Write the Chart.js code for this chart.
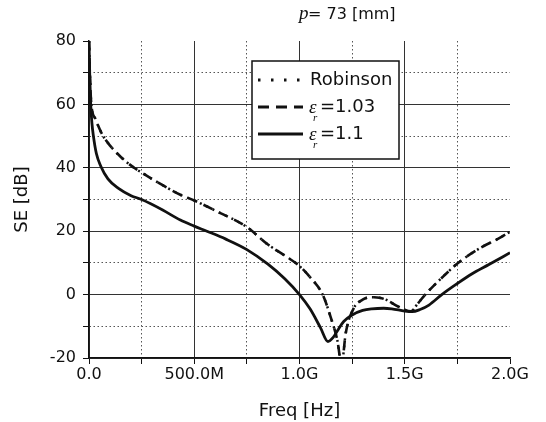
<!DOCTYPE html>
<html>
<head>
<meta charset="utf-8">
<script src="https://cdn.jsdelivr.net/npm/chart.js@4"></script>
<style>
html,body{margin:0;padding:0;background:#fff;}
#wrap{width:546px;height:422px;position:relative;}
</style>
</head>
<body>
<div id="wrap"><canvas id="c" width="546" height="422"></canvas></div>
<script>
// ---- data (frequency in GHz, SE in dB) ----
const freqEps110 = [0,0.004,0.008,0.014,0.021,0.035,0.056,0.09,0.14,0.2,0.25,0.35,0.434,0.5,0.56,0.65,0.75,0.85,0.93,1.0,1.05,1.1,1.135,1.16,1.185,1.21,1.248,1.3,1.343,1.4,1.438,1.5,1.535,1.57,1.615,1.676,1.75,1.818,1.9,2.0];
const seEps110   = [80,68,60,54,50,44.5,40.5,36.5,33.5,31.2,30,26.7,23.5,21.6,20,17.5,14.2,9.6,5,0,-4.5,-10.5,-14.8,-13.5,-10.9,-8.5,-6.5,-5,-4.5,-4.3,-4.5,-5.2,-5.4,-4.8,-3.3,0,3.5,6.5,9.5,13.2];

const freqEps103 = [0,0.005,0.011,0.03,0.063,0.1,0.15,0.214,0.25,0.35,0.434,0.5,0.6,0.75,0.85,0.93,1.0,1.05,1.11,1.15,1.18,1.2,1.22,1.256,1.3,1.343,1.38,1.41,1.47,1.53,1.56,1.6,1.695,1.75,1.853,1.949,2.0];
const seEps103   = [80,68,60,55.5,50.5,47,43.5,40,38.5,34.5,31.5,29.7,26.5,21.3,15.8,12.3,9,5.5,0,-7.5,-14.5,-22,-12,-4.5,-1.6,-0.8,-1,-1.6,-3.8,-5.3,-3,0.2,6.5,9.8,14.5,17.8,19.8];

const freqRobinson = [0,0.005,0.011,0.03,0.063,0.1,0.15,0.214,0.25,0.35,0.434,0.5,0.6,0.75,0.85,0.93,1.0,1.05,1.11,1.15,1.18,1.2,1.22,1.256,1.3,1.343,1.38,1.41,1.47,1.53,1.56,1.6,1.695,1.75,1.853,1.949,2.0];
const seRobinson   = [80,68,60,55.5,50.5,47,43.5,40,38.5,34.5,31.5,29.7,26.5,21.3,15.8,12.3,9,5.5,0,-7.5,-14.5,-22,-12,-4.5,-1.6,-0.8,-1,-1.6,-3.8,-5.3,-3,0.2,6.5,9.8,14.5,17.8,19.8];

const xTickValues = [0,0.25,0.5,0.75,1.0,1.25,1.5,1.75,2.0];
const xTickLabels = ['0.0','','500.0M','','1.0G','','1.5G','','2.0G'];
const yTickValues = [-20,-10,0,10,20,30,40,50,60,70,80];
const yTickLabels = ['-20','','0','','20','','40','','60','','80'];

const seriesNames = ['Robinson','1.03','1.1'];
const titleText = '= 73 [mm]';

function pts(xs, ys){ return xs.map((x,i)=>({x:x, y:ys[i]})); }

const FONT = '"DejaVu Sans", sans-serif';
const INK = '#111';

const overlayPlugin = {
  id:'overlay',
  afterDraw(chart){
    const ctx = chart.ctx;
    ctx.save();
    // title
    ctx.fillStyle = INK;
    ctx.textBaseline = 'alphabetic';
    ctx.textAlign = 'left';
    ctx.font = 'italic 19px "Liberation Serif", "DejaVu Serif", serif';
    ctx.fillText('p', 299, 19);
    ctx.font = '16px ' + FONT;
    ctx.fillText(titleText, 308, 19);

    // legend box
    const bx = 252, by = 61, bw = 147, bh = 98;
    ctx.fillStyle = '#fff';
    ctx.fillRect(bx, by, bw, bh);
    ctx.strokeStyle = INK;
    ctx.lineWidth = 1.5;
    ctx.strokeRect(bx, by, bw, bh);

    const rows = [
      {y:80, dash:[2.5,10.5], w:3, label:seriesNames[0], eps:false},
      {y:107, dash:[11,7], w:3, label:seriesNames[1], eps:true},
      {y:134, dash:[], w:3, label:seriesNames[2], eps:true}
    ];
    rows.forEach(r=>{
      ctx.beginPath();
      ctx.setLineDash(r.dash);
      ctx.lineWidth = r.w;
      ctx.strokeStyle = INK;
      ctx.moveTo(258, r.y);
      ctx.lineTo(303, r.y);
      ctx.stroke();
      ctx.setLineDash([]);
      ctx.fillStyle = INK;
      ctx.textBaseline = 'middle';
      if(!r.eps){
        ctx.font = '18px ' + FONT;
        ctx.fillText(r.label, 310, r.y);
      } else {
        ctx.font = 'italic 19px "Liberation Serif", "DejaVu Serif", serif';
        ctx.fillText('\u03b5', 309, r.y+1);
        ctx.font = 'italic 11px "Liberation Serif", "DejaVu Serif", serif';
        ctx.fillText('r', 313, r.y+11);
        ctx.font = '18px ' + FONT;
        ctx.fillText('=' + r.label, 320, r.y);
      }
    });
    ctx.restore();
  }
};

const isMinorX = v => Math.abs((v/0.5) - Math.round(v/0.5)) > 1e-6;
const isMinorY = v => Math.abs((v/20) - Math.round(v/20)) > 1e-6;

new Chart(document.getElementById('c'), {
  type:'line',
  data:{
    datasets:[
      {label:seriesNames[0], data:pts(freqRobinson, seRobinson), borderColor:INK, borderWidth:2.5, borderDash:[2,5], pointRadius:0, fill:false, cubicInterpolationMode:'monotone'},
      {label:seriesNames[1], data:pts(freqEps103, seEps103), borderColor:INK, borderWidth:2.6, borderDash:[10,7], pointRadius:0, fill:false, cubicInterpolationMode:'monotone'},
      {label:seriesNames[2], data:pts(freqEps110, seEps110), borderColor:INK, borderWidth:2.8, pointRadius:0, fill:false, cubicInterpolationMode:'monotone'}
    ]
  },
  options:{
    responsive:false,
    animation:false,
    devicePixelRatio:1,
    layout:{padding:{top:41,right:36,left:0,bottom:0}},
    plugins:{legend:{display:false}, title:{display:false}, tooltip:{enabled:false}},
    scales:{
      x:{
        type:'linear', min:0, max:2,
        afterBuildTicks: s => { s.ticks = xTickValues.map(v=>({value:v})); },
        afterFit: s => { s.height = 64; },
        ticks:{
          autoSkip:false, maxRotation:0, padding:1, color:INK,
          font:{family:FONT, size:16},
          callback:(v, i) => xTickLabels[xTickValues.indexOf(v)] ?? ''
        },
        grid:{
          color: c => (c.tick && (c.tick.value === 2)) ? 'rgba(0,0,0,0)' : (c.tick && isMinorX(c.tick.value) ? '#555' : '#333'),
          lineWidth:1,
          tickColor: INK, tickLength:6, tickWidth:1
        },
        border:{display:true, color:INK, width:1.5, dash: c => (c.tick && isMinorX(c.tick.value)) ? [1.5,2.5] : []},
        title:{display:true, text:'Freq [Hz]', color:INK, font:{family:FONT, size:18}, padding:{top:0,bottom:0}}
      },
      y:{
        type:'linear', min:-20, max:80,
        afterBuildTicks: s => { s.ticks = yTickValues.map(v=>({value:v})); },
        afterFit: s => { s.width = 89; },
        ticks:{
          autoSkip:false, padding:7, color:INK,
          font:{family:FONT, size:16},
          callback:(v) => yTickLabels[yTickValues.indexOf(v)] ?? ''
        },
        grid:{
          color: c => (c.tick && (c.tick.value === 80)) ? 'rgba(0,0,0,0)' : (c.tick && isMinorY(c.tick.value) ? '#555' : '#333'),
          lineWidth:1,
          tickColor: INK, tickLength:6, tickWidth:1
        },
        border:{display:true, color:INK, width:1.5, dash: c => (c.tick && isMinorY(c.tick.value)) ? [1.5,2.5] : []},
        title:{display:true, text:'SE [dB]', color:INK, font:{family:FONT, size:18}, padding:{top:12,bottom:0}}
      }
    }
  },
  plugins:[overlayPlugin]
});
</script>
</body>
</html>
